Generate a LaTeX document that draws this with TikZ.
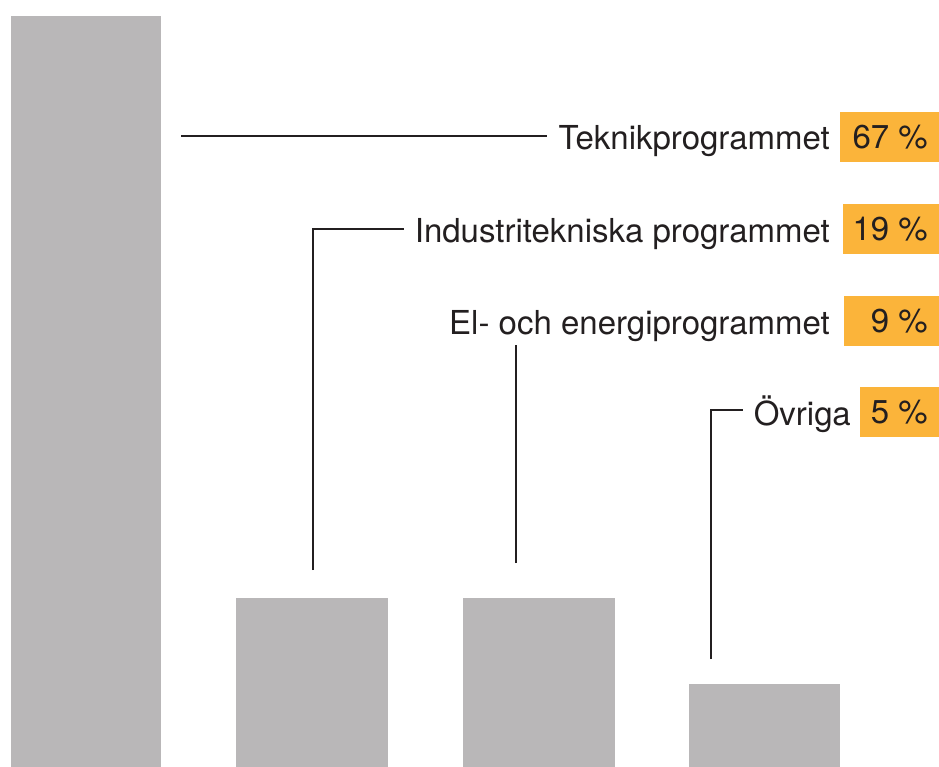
\documentclass[tikz,border=0pt]{standalone}
\usepackage{fontspec}
\setmainfont{TeX Gyre Heros}
\definecolor{bargray}{HTML}{B9B7B8}
\definecolor{pctorange}{HTML}{FBB43A}
\definecolor{inkgray}{HTML}{231F20}
\tikzset{
	bar/.style={fill=bargray, draw=none},
	lbl/.style={text=inkgray, inner xsep=11pt, inner ysep=2pt},
	pct/.style={fill=pctorange, text=inkgray, minimum height=50pt, inner xsep=11pt, inner ysep=0pt},
	lead/.style={draw=inkgray, line width=1.6pt}
}
\begin{document}
\begin{tikzpicture}[x=1pt, y=-1pt, every node/.append style={font=\fontsize{33}{36}\selectfont}]
	\useasboundingbox (0,0) rectangle (939,767);
	\foreach \xa/\xb/\t/\n in {11/161/16/1, 236/388/598/2, 463/615/598/3, 689/840/684/4}
	{
		\fill[bar] (\xa,\t) rectangle (\xb,767);
	}

	\foreach \w/\y/\v/\n in {77/112/67/1, 74/204/19/2, 73/296/9/3, 57/387/5/4}
	{
		\node[pct, anchor=north east] (p\n) at (939,\y) {\makebox[\w pt][r]{\v\ \%}};
	}

	\node[lbl, anchor=base east] (l1) at (841,150) {Teknikprogrammet};
	\node[lbl, anchor=base east] (l2) at (841,243) {Industritekniska programmet};
	\node[lbl, anchor=base east] (l3) at (841,334) {El- och energiprogrammet};
	\node[lbl, anchor=base east] (l4) at (862,425) {Övriga};

	\coordinate (c1) at (181,136);
	\coordinate (c2) at (313,570);
	\coordinate (c3) at (516,563);
	\coordinate (c4) at (711,659);

	\draw[lead] (c1) -- (c1 -| l1.west);
	\draw[lead] (c2) -- (313,229) -- (l2.west |- 0,229);
	\draw[lead] (c3) -- (c3 |- 0,345);
	\draw[lead] (c4) -- (711,410) -- (l4.west |- 0,410);
\end{tikzpicture}
\end{document}
